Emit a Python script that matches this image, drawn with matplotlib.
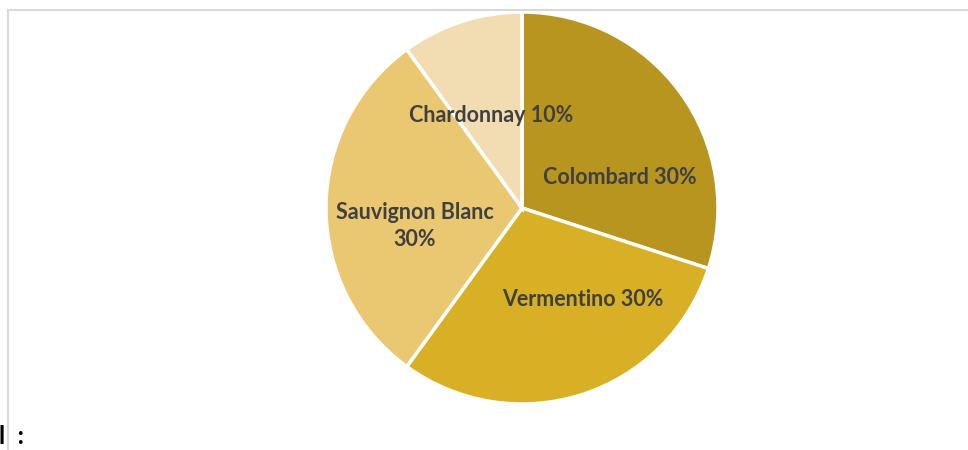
#!/usr/bin/env python3
"""Camembert des cépages (reproduction d'un graphique Excel)."""
import matplotlib
matplotlib.use("Agg")
import matplotlib.pyplot as plt
from matplotlib.lines import Line2D

CEPAGES = ["Colombard", "Vermentino", "Sauvignon Blanc", "Chardonnay"]
PARTS = [30, 30, 30, 10]
COULEURS = ["#B7951F", "#D8B025", "#EAC771", "#F2DDB2"]
ETIQUETTES = ["Colombard 30%", "Vermentino 30%", "Sauvignon Blanc\n30%", "Chardonnay 10%"]
# décalage des étiquettes (pixels) par rapport au centre du camembert
DECALAGES = [(98, 30), (61, -92), (-107, -18), (-31, 93)]

W, H = 968, 450
CX, CY, R = 522, H - 208, 196

fig = plt.figure(figsize=(W / 100, H / 100), dpi=100)
ax = fig.add_axes([0, 0, 1, 1])

ax.pie(
    PARTS,
    colors=COULEURS,
    startangle=90,
    counterclock=False,
    center=(CX, CY),
    radius=R,
    wedgeprops={"edgecolor": "white", "linewidth": 2.5},
    frame=True,
)
ax.set_xlim(0, W)
ax.set_ylim(0, H)
ax.set_aspect("equal")
ax.axis("off")

for texte, (dx, dy) in zip(ETIQUETTES, DECALAGES):
    ax.text(CX + dx, CY + dy, texte, ha="center", va="center", fontsize=15.5,
            fontweight="bold", color="#404040", family="Lato", linespacing=1.3)

# cadre gris du graphique (bord haut et gauche visibles)
fig.add_artist(Line2D([8 / W, 1], [1 - 9.5 / H, 1 - 9.5 / H], color="#D9D9D9", linewidth=1.5))
fig.add_artist(Line2D([8 / W, 8 / W], [0, 1 - 9.5 / H], color="#D9D9D9", linewidth=1.5))

fig.text(-1 / W, 1 - 437 / H, "l  :", ha="left", va="center", fontsize=18,
         fontweight="bold", color="black", family="Lato")

fig.savefig("out.png", dpi=100)
plt.close(fig)
